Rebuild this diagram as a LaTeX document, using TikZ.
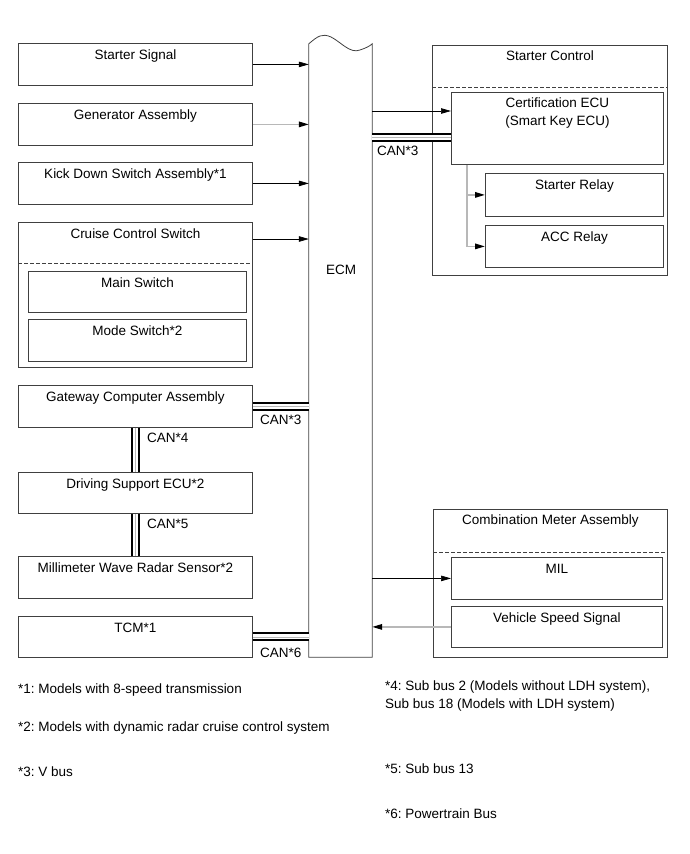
\documentclass[tikz,border=0pt]{standalone}
\usepackage{fontspec}
\setmainfont{Liberation Sans}
\frenchspacing
\usetikzlibrary{arrows.meta,positioning,calc}
\definecolor{boxline}{gray}{0.25}
\definecolor{sigline}{gray}{0.72}
\tikzset{
  font=\fontsize{13.5}{18}\selectfont,
  box/.style={
    draw=boxline,
    line width=0.8pt,
    anchor=north west,
    align=center,
    inner sep=0pt,
    minimum width=234pt,
    text height=16.5pt,
    text depth=25.5pt
  },
  subbox/.style={
    box,
    minimum width=218pt
  },
  group/.style={
    box,
    minimum width=235pt,
    text height=15pt
  },
  divider/.style={draw=boxline, dash pattern=on 4pt off 2pt, line width=0.6pt},
  arrow/.style={-{Triangle[length=10pt,width=5.5pt]}, line width=0.7pt},
  grayarrow/.style={-{Triangle[length=10pt,width=5.5pt,color=black]}, draw=sigline, line width=1.5pt},
  canbus/.style={
    line width=9pt,
    postaction={draw=white, line width=5pt},
    postaction={draw=sigline, line width=0.8pt}
  },
  canlabel/.style={anchor=west, inner sep=0pt},
  footnote/.style={anchor=west, align=left, inner sep=0pt}
}
\begin{document}
\begin{tikzpicture}[x=1pt, y=-1pt]
\useasboundingbox (0,0) rectangle (689,854);

% ECM body
\node[minimum width=63pt, minimum height=613pt, inner sep=0pt] (ecm) at (340.5,350.5) {};
\draw[boxline, line width=0.8pt] (ecm.south west) -- (ecm.north west)
  .. controls (318,36) and (322,33) .. (331,37)
  .. controls (341,42) and (350,54) .. (360,50)
  .. controls (366,48) and (370,46) .. (ecm.north east) -- (ecm.south east) -- cycle;
\node (ecmlabel) at (341,270) {ECM};

% Left-side inputs
\node[box] (sig) at (18,43) {Starter Signal};
\node[box] (gen) at (18,103) {Generator Assembly};
\node[box] (kick) at (18,162) {Kick Down Switch Assembly*1};
\node[box, text depth=128.5pt] (cruise) at (18,222) {Cruise Control Switch};
\draw[divider] ($(cruise.north west)+(0,41)$) -- ($(cruise.north east)+(0,41)$);
\node[subbox, text depth=24.5pt] (mainsw) at (28,271) {Main Switch};
\node[subbox] (modesw) at (28,319) {Mode Switch*2};
\node[box] (gw) at (18,385) {Gateway Computer Assembly};
\node[box, text depth=24.5pt] (drv) at (18,472) {Driving Support ECU*2};
\node[box] (mmw) at (18,556) {Millimeter Wave Radar Sensor*2};
\node[box, text depth=24.5pt] (tcm) at (18,616) {TCM*1};

% Right-side outputs
\node[group, text depth=215pt] (stctl) at (432,45) {Starter Control};
\draw[divider] ($(stctl.north west)+(0,42)$) -- ($(stctl.north east)+(0,42)$);
\node[box, minimum width=212pt, text height=33pt, text depth=39pt] (cert) at (451,92) {Certification ECU\\(Smart Key ECU)};
\node[box, minimum width=178pt, text depth=26.5pt] (srelay) at (485,173) {Starter Relay};
\node[box, minimum width=178pt] (acc) at (485,225) {ACC Relay};
\node[group, minimum width=234pt, text depth=133pt] (cmeter) at (433,509) {Combination Meter Assembly};
\draw[divider] ($(cmeter.north west)+(0,43)$) -- ($(cmeter.north east)+(0,43)$);
\node[box, minimum width=211pt] (mil) at (451,557) {MIL};
\node[box, minimum width=211pt, text depth=24.5pt] (vss) at (451,606) {Vehicle Speed Signal};

% Signals into ECM
\draw[arrow] (sig.east) -- (sig.east -| ecm.west);
\draw[grayarrow] (gen.east) -- (gen.east -| ecm.west);
\draw[arrow] (kick.east) -- (kick.east -| ecm.west);
\coordinate (cruiseout) at ($(cruise.north east)+(0,17)$);
\draw[arrow] (cruiseout) -- (cruiseout -| ecm.west);

% Starter control
\coordinate (certin) at ($(cert.north west)+(0,19)$);
\draw[arrow] (certin -| ecm.east) -- (certin);
\coordinate (certcan) at ($(cert.north west)+(0,45.5)$);
\draw[canbus] (certcan -| ecm.east) -- (certcan);
\node[canlabel] (can3a) at (377,151) {CAN*3};
\coordinate (tap) at ($(cert.south west)+(16,0)$);
\draw[grayarrow] (tap) |- (srelay.west);
\draw[grayarrow] (tap) |- (acc.west);

% Combination meter
\draw[arrow] (mil.west -| ecm.east) -- (mil.west);
\draw[grayarrow] (vss.west) -- (vss.west -| ecm.east);

% CAN lines
\draw[canbus] (gw.east) -- (gw.east -| ecm.west);
\node[canlabel] (can3b) at (260,420) {CAN*3};
\draw[canbus] (gw.south) -- (drv.north);
\node[canlabel] (can4) at (147,438) {CAN*4};
\draw[canbus] (drv.south) -- (mmw.north);
\node[canlabel] (can5) at (147,524) {CAN*5};
\draw[canbus] (tcm.east) -- (tcm.east -| ecm.west);
\node[canlabel] (can6) at (260,653) {CAN*6};

% Footnotes
\node[footnote] (fn1) at (18,690) {*1: Models with 8-speed transmission};
\node[footnote] (fn2) at (18,728) {*2: Models with dynamic radar cruise control system};
\node[footnote] (fn3) at (18,772) {*3: V bus};
\node[footnote, anchor=north west] (fn4) at (385,681) {*4: Sub bus 2 (Models without LDH system),\\Sub bus 18 (Models with LDH system)};
\node[footnote] (fn5) at (385,769) {*5: Sub bus 13};
\node[footnote] (fn6) at (385,814) {*6: Powertrain Bus};

\end{tikzpicture}
\end{document}
